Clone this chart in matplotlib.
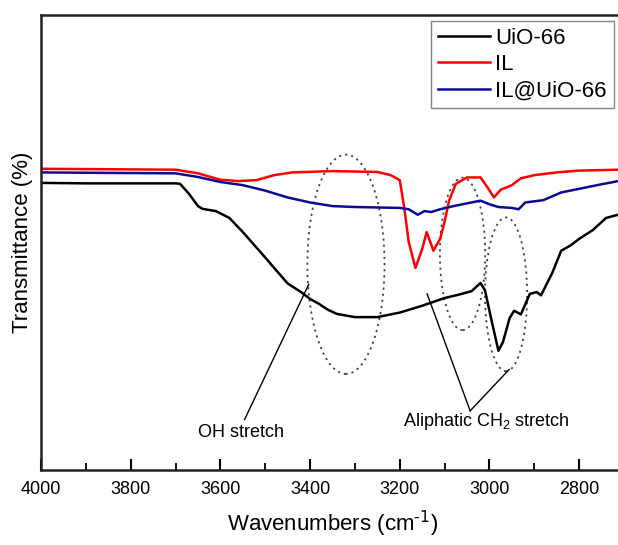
import matplotlib
matplotlib.use("Agg")
import matplotlib.pyplot as plt
from matplotlib.patches import Ellipse

plt.rcParams['font.family'] = ['Liberation Sans', 'DejaVu Sans']

# --- data (arbitrary transmittance units) ---
uio_x = [4000, 3900, 3800, 3700, 3690, 3670, 3650, 3640, 3610, 3580, 3550, 3500, 3480, 3450,
         3420, 3400, 3380, 3360, 3340, 3300, 3250, 3200, 3150, 3100, 3070, 3040, 3020, 3010,
         2995, 2980, 2970, 2955, 2945, 2930, 2910, 2895, 2885, 2860, 2840, 2820, 2800, 2770,
         2740, 2713]
uio_y = [63.1, 63.0, 63.0, 63.0, 62.9, 60.7, 58.0, 57.4, 56.9, 55.4, 52.3, 46.7, 44.4, 41.0,
         39.1, 37.6, 36.5, 35.2, 34.3, 33.6, 33.6, 34.6, 36.1, 37.8, 38.5, 39.3, 41.1, 39.5,
         32.7, 26.2, 28.1, 33.4, 35.0, 34.2, 38.7, 39.1, 38.4, 43.3, 48.2, 49.3, 50.8, 52.7,
         55.4, 56.1]

il_x = [4000, 3850, 3700, 3650, 3600, 3560, 3520, 3480, 3440, 3350, 3250, 3220, 3200, 3190,
        3180, 3165, 3150, 3140, 3125, 3110, 3100, 3090, 3075, 3050, 3020, 3005, 2990, 2975,
        2950, 2930, 2900, 2850, 2800, 2713]
il_y = [66.2, 66.1, 66.0, 65.2, 63.8, 63.5, 63.7, 64.8, 65.4, 65.7, 65.5, 64.8, 63.7, 57.6,
        50.1, 44.4, 48.6, 52.3, 48.2, 50.8, 54.6, 59.2, 62.9, 64.3, 64.3, 62.2, 59.9, 61.6,
        62.6, 64.1, 64.8, 65.4, 65.8, 66.0]

ilu_x = [4000, 3850, 3700, 3650, 3600, 3550, 3500, 3450, 3400, 3350, 3300, 3200, 3180, 3160,
         3145, 3130, 3110, 3080, 3040, 3020, 3000, 2980, 2950, 2935, 2920, 2880, 2840, 2800,
         2760, 2713]
ilu_y = [65.4, 65.3, 65.2, 64.4, 63.3, 62.6, 61.4, 59.9, 58.8, 58.0, 57.8, 57.6, 57.3, 56.1,
         56.9, 56.7, 57.3, 58.0, 58.8, 59.2, 58.4, 57.8, 57.6, 57.3, 58.8, 59.3, 61.0, 61.8,
         62.6, 63.5]

series_labels = ["UiO-66", "IL", "IL@UiO-66"]
xticks = [4000, 3800, 3600, 3400, 3200, 3000, 2800]

fig = plt.figure(figsize=(6.18, 5.45), dpi=100)
ax = fig.add_axes([41/618, 75/545, (624-41)/618, 455/545])

ax.plot(uio_x, uio_y, color='black', lw=1.8, label=series_labels[0])
ax.plot(il_x, il_y, color='#ff0000', lw=1.8, label=series_labels[1])
ax.plot(ilu_x, ilu_y, color='#0a0a96', lw=1.8, label=series_labels[2])

# dotted ellipses
for (cx, cy, w, h) in [(3320, 45.2, 172, 48.2), (3060, 47.5, 101, 33.5), (2963, 38.6, 94, 33.8)]:
    ax.add_patch(Ellipse((cx, cy), w, h, fill=False, ls=(0, (1.2, 2.2)), lw=1.3, ec='#444444'))

# annotation lines
ax.plot([3546, 3403], [11.1, 40.8], color='black', lw=1.0)
ax.plot([3043, 3139], [13.0, 38.7], color='black', lw=1.0)
ax.plot([3043, 2956], [13.0, 22.1], color='black', lw=1.0)
ax.text(3553, 8.2, "OH stretch", ha='center', va='center', fontsize=13)
ax.text(3007, 10.6, "Aliphatic CH$_\\mathregular{2}$ stretch", ha='center', va='center', fontsize=13)

ax.set_xlim(4000, 2700)
ax.set_ylim(0, 100)
ax.set_xticks(xticks)
ax.set_xticks(range(3900, 2700, -200), minor=True)
ax.set_yticks([])
ax.tick_params(axis='x', which='major', direction='in', length=8, width=1.5, labelsize=13, pad=8)
ax.tick_params(axis='x', which='minor', direction='in', length=5, width=1.3)
for s in ax.spines.values():
    s.set_linewidth(1.8)
    s.set_color('#222222')

ax.set_xlabel("Wavenumbers (cm$^{\\text{-1}}$)", fontsize=16, labelpad=8)
ax.set_ylabel("Transmittance (%)", fontsize=16, labelpad=6)

leg = ax.legend(loc='upper left', bbox_to_anchor=(431/618, 1 - 21/545), bbox_transform=fig.transFigure,
                fontsize=16, fancybox=False, edgecolor='#666666', handlelength=2.35,
                borderpad=0.3, labelspacing=0.25, handletextpad=0.25, borderaxespad=0)
leg.get_frame().set_linewidth(1.0)

fig.savefig("out.png", dpi=100)
